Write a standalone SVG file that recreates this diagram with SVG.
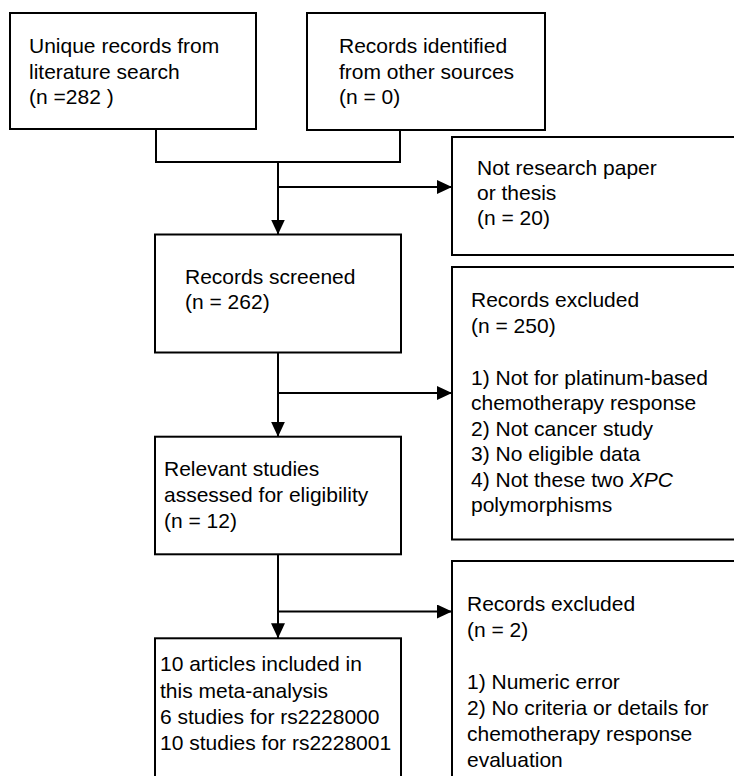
<svg xmlns="http://www.w3.org/2000/svg" width="734" height="776" viewBox="0 0 734 776">
<defs>
<marker id="ah" markerUnits="userSpaceOnUse" markerWidth="15" markerHeight="14" refX="15" refY="7" orient="auto">
<path d="M0,0 L15,7 L0,14 z" fill="#000"/>
</marker>
<style>
.box{fill:#fff;stroke:#000;stroke-width:2}
.t{font-family:"Liberation Sans",Arial,sans-serif;font-size:21px;fill:#000}
.c{fill:none;stroke:#000;stroke-width:2}
</style>
</defs>
<rect width="734" height="776" fill="#fff"/>
<g id="n1"><rect class="box" x="10" y="13" width="246" height="116"/>
<text class="t" x="29" y="53">Unique records from</text>
<text class="t" x="29" y="79">literature search</text>
<text class="t" x="29" y="104">(n =282 )</text></g>
<g id="n2"><rect class="box" x="307" y="13" width="238" height="117"/>
<text class="t" x="339" y="53">Records identified</text>
<text class="t" x="339" y="79">from other sources</text>
<text class="t" x="339" y="104">(n = 0)</text></g>
<g id="n3"><rect class="box" x="452" y="137" width="290" height="118"/>
<text class="t" x="477" y="174.5">Not research paper</text>
<text class="t" x="477" y="199.5">or thesis</text>
<text class="t" x="477" y="224.5">(n = 20)</text></g>
<g id="n4"><rect class="box" x="155" y="234.5" width="246" height="118"/>
<text class="t" x="185" y="284">Records screened</text>
<text class="t" x="185" y="309">(n = 262)</text></g>
<g id="n5"><rect class="box" x="452" y="267" width="290" height="272.5"/>
<text class="t" x="471" y="307">Records excluded</text>
<text class="t" x="471" y="332.5">(n = 250)</text>
<text class="t" x="471" y="384.5">1) Not for platinum-based</text>
<text class="t" x="471" y="410">chemotherapy response</text>
<text class="t" x="471" y="435.5">2) Not cancer study</text>
<text class="t" x="471" y="461">3) No eligible data</text>
<text class="t" x="471" y="486.7">4) Not these two <tspan font-style="italic">XPC</tspan></text>
<text class="t" x="471" y="512.3">polymorphisms</text></g>
<g id="n6"><rect class="box" x="155" y="436.7" width="246" height="117.6"/>
<text class="t" x="164" y="476">Relevant studies</text>
<text class="t" x="164" y="502">assessed for eligibility</text>
<text class="t" x="164" y="528">(n = 12)</text></g>
<g id="n7"><rect class="box" x="452" y="561" width="290" height="230"/>
<text class="t" x="467" y="611">Records excluded</text>
<text class="t" x="467" y="637">(n = 2)</text>
<text class="t" x="467" y="688.5">1) Numeric error</text>
<text class="t" x="467" y="714.5">2) No criteria or details for</text>
<text class="t" x="467" y="740.5">chemotherapy response</text>
<text class="t" x="467" y="766.5">evaluation</text></g>
<g id="n8"><rect class="box" x="155" y="638.3" width="246" height="150"/>
<text class="t" x="160" y="671">10 articles included in</text>
<text class="t" x="160" y="697.5">this meta-analysis</text>
<text class="t" x="160" y="723.5">6 studies for rs2228000</text>
<text class="t" x="160" y="750">10 studies for rs2228001</text></g>
<g id="connectors">
<path class="c" d="M156,129 V162 H400 V130"/>
<path class="c" d="M278,162 V234.5" marker-end="url(#ah)"/>
<path class="c" d="M278,187 H452" marker-end="url(#ah)"/>
<path class="c" d="M278,352.5 V436.7" marker-end="url(#ah)"/>
<path class="c" d="M278,393 H452" marker-end="url(#ah)"/>
<path class="c" d="M278,554.3 V638.3" marker-end="url(#ah)"/>
<path class="c" d="M278,611.5 H452" marker-end="url(#ah)"/>
</g>
</svg>
